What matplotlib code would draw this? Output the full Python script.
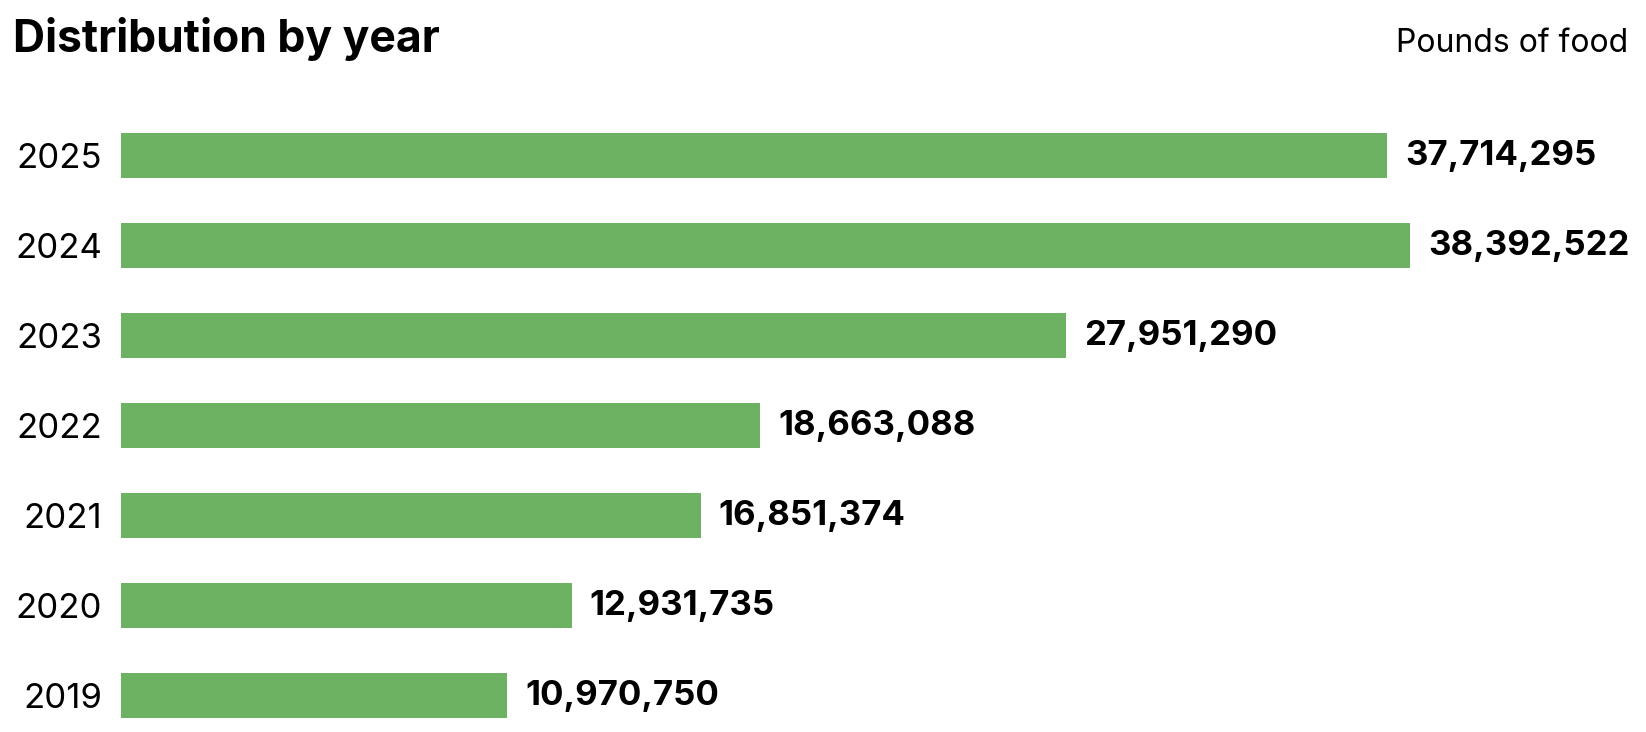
import matplotlib
matplotlib.use('Agg')
import matplotlib.pyplot as plt

years = ['2019', '2020', '2021', '2022', '2023', '2024', '2025']
pounds = [10970750, 12931735, 16851374, 18663088, 27951290, 38392522, 37714295]

bar_color = '#6db263'
plt.rcParams['font.family'] = ['Inter', 'DejaVu Sans']

W, H = 1646, 732
fig = plt.figure(figsize=(W / 100, H / 100), dpi=100)
# axes box in pixels: left 121, top 110, bottom 740 (just below the figure)
ax = fig.add_axes([121 / W, 1 - 740 / H, 1515 / W, 630 / H])

# the bars in the original start a little left of zero
base = -766000
px_per_unit = 32.91e-6

pos = list(range(len(years)))
ax.barh(pos, [v - base for v in pounds], left=base, height=0.5, color=bar_color)
for y, v in zip(pos, pounds):
    ax.annotate(f'{v:,}', (v, y), xytext=(13, -1), textcoords='offset points',
                va='center', ha='left', fontsize=25, fontweight='bold',
                color='black')

ax.set_xlim(base, base + 1515 / px_per_unit)
ax.set_ylim(-0.5, 6.5)
ax.set_yticks(pos)
ax.set_yticklabels(years, fontsize=25)
ax.tick_params(axis='y', length=0, pad=13.5)
ax.set_xticks([])
for s in ax.spines.values():
    s.set_visible(False)

fig.text(13 / W, 1 - 52 / H, 'Distribution by year', fontsize=32,
         fontweight='bold', va='baseline', ha='left')
fig.text(1628 / W, 1 - 52 / H, 'Pounds of food', fontsize=23,
         va='baseline', ha='right')

fig.savefig('out.png', dpi=100)
